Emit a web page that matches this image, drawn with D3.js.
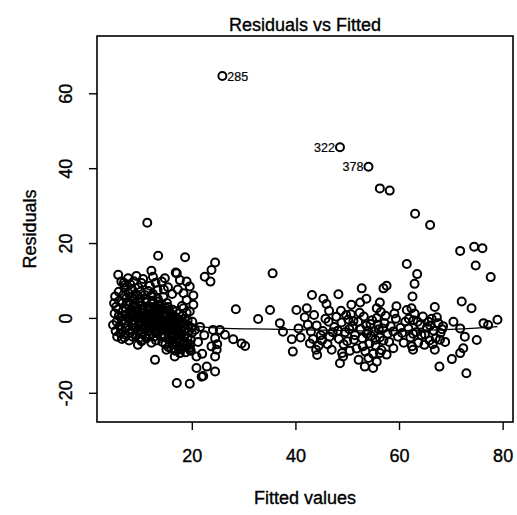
<!DOCTYPE html>
<html>
<head>
<meta charset="utf-8">
<script src="https://cdn.jsdelivr.net/npm/d3@7"></script>
<style>
  body { margin: 0; background: #fff; }
  text { font-family: "Liberation Sans", Arial, sans-serif; fill: #000; stroke: #000; stroke-width: 0.35px; }
</style>
</head>
<body>
<script>
// residuals vs fitted, [fitted, residual]
var lowPoints = [
 [5.3,-3.5],[5.5,-1.0],[5.1,1.2],[5.4,3.0],[5.6,-5.0],
 [5.9,0.5],[6.1,-2.2],[5.8,2.4],[6.0,4.6],[6.2,-4.1],[5.9,7.0],
 [6.5,-0.8],[6.7,1.8],[6.4,-3.0],[6.6,3.9],[6.8,6.1],[6.5,-5.6],[6.3,0.2],
 [7.2,2.6],[7.0,-1.5],[7.3,0.9],[7.1,-4.4],[7.4,5.3],[7.2,-2.8],[7.0,8.0],[7.5,3.8],
 [7.8,-0.3],[8.0,1.5],[7.7,-2.1],[7.9,4.2],[8.1,-3.9],[7.8,6.6],[8.0,0.8],[7.9,-6.0],
 [8.4,2.0],[8.6,-1.2],[8.3,0.4],[8.5,-3.3],[8.7,3.4],[8.4,5.7],[8.6,-5.0],[8.2,1.1],[8.5,7.5],
 [9.0,-0.6],[9.2,1.9],[8.9,-2.6],[9.1,3.0],[9.3,-4.6],[9.0,4.9],[9.2,0.3],[8.8,-1.8],[9.1,6.3],
 [9.6,0.9],[9.8,-1.4],[9.5,2.7],[9.7,-3.4],[9.9,4.1],[9.6,-0.1],[9.4,6.0],[9.8,-5.4],[9.6,1.6],[9.7,8.2],
 [10.2,-0.9],[10.4,1.3],[10.1,-2.3],[10.3,3.4],[10.5,0.2],[10.2,-4.1],[10.0,5.2],[10.4,2.4],[10.3,-6.2],[10.1,7.0],
 [10.8,0.6],[11.0,-1.9],[10.7,2.1],[10.9,-3.0],[11.1,4.4],[10.8,-0.5],[10.6,1.4],[11.0,-4.8],[10.9,6.1],[10.7,-2.6],
 [11.4,-0.2],[11.6,1.8],[11.3,-1.4],[11.5,3.1],[11.7,-3.6],[11.4,0.8],[11.2,5.0],[11.6,-2.2],[11.5,2.6],[11.3,-5.4],[11.6,7.2],
 [12.0,0.3],[12.2,-1.1],[11.9,2.3],[12.1,-2.8],[12.3,4.0],[12.0,1.2],[11.8,-4.4],[12.2,-0.6],[12.1,5.8],[11.9,3.0],[12.2,-6.6],
 [12.6,-0.4],[12.8,1.6],[12.5,-2.0],[12.7,2.9],[12.9,-3.5],[12.6,0.7],[12.4,4.6],[12.8,-1.2],[12.7,-5.0],[12.5,6.4],
 [13.2,0.9],[13.4,-0.9],[13.1,2.2],[13.3,-2.6],[13.5,3.6],[13.2,-4.0],[13.0,1.3],[13.4,5.2],[13.3,-1.7],[13.1,-6.0],[13.4,7.4],
 [13.8,-0.1],[14.0,1.9],[13.7,-1.6],[13.9,3.2],[14.1,-3.1],[13.8,0.5],[13.6,4.4],[14.0,-4.8],[13.9,2.6],[13.7,-2.4],
 [14.4,0.4],[14.6,-1.3],[14.3,2.4],[14.5,-2.9],[14.7,1.1],[14.4,-4.3],[14.2,3.6],[14.6,-0.6],[14.5,5.6],[14.3,-6.4],
 [15.0,-0.8],[15.2,1.2],[14.9,-2.2],[15.1,0.3],[15.3,-3.6],[15.0,2.6],[14.8,-5.2],[15.2,4.0],[15.1,-1.5],[14.9,-7.0],
 [15.6,-1.9],[15.8,0.1],[15.5,-3.2],[15.7,1.5],[15.9,-4.6],[15.6,-0.9],[15.4,2.9],[15.8,-6.0],[15.7,-2.6],[15.5,-7.8],
 [16.2,-2.4],[16.4,-0.6],[16.1,-4.0],[16.3,0.8],[16.5,-5.4],[16.2,-1.6],[16.0,-3.0],[16.4,-6.8],[16.3,2.2],[16.1,-8.2],
 [16.8,-3.0],[17.0,-1.2],[16.7,-4.6],[16.9,0.2],[17.1,-5.9],[16.8,-2.2],[16.6,-7.2],[17.0,1.8],[16.9,-8.8],
 [17.4,-3.6],[17.6,-1.8],[17.3,-5.2],[17.5,-0.4],[17.7,-6.6],[17.4,-2.8],[17.2,-4.4],[17.6,-7.8],[17.5,1.2],
 [18.0,-4.2],[18.2,-2.4],[17.9,-5.8],[18.1,-1.0],[18.3,-7.2],[18.0,-3.4],[17.8,-8.4],[18.2,0.6],[18.1,3.2],
 [18.6,-4.8],[18.8,-3.0],[18.5,-6.2],[18.7,-1.6],[18.9,-7.6],[18.6,-0.2],[18.4,2.6],[18.8,-9.2],
 [19.2,-5.2],[19.4,-3.6],[19.1,-6.8],[19.3,-2.0],[19.5,-8.0],[19.2,-0.6],[19.0,1.4],
 [19.8,-5.8],[20.0,-4.0],[19.7,-7.2],[19.9,-2.6],[20.1,-1.0],[19.8,-8.8],
 [6.9,9.4],[8.8,9.8],[9.3,11.2],[11.9,8.6],[13.0,9.4],[15.4,8.2],[16.2,6.4],[17.3,7.6],
 [8.1,9.0],[12.2,12.6],[10.6,10.4],[14.6,7.6],[18.4,6.6],[20.3,6.0]
];

// edge of the left cloud and the sparse middle
var edgePoints = [
 [5.8,11.5],[6.4,9.7],[7.7,10.6],[7.1,8.8],[10.3,9.3],[12.5,11.0],[14.2,9.7],[14.8,10.6],
 [17.1,11.9],[17.7,10.1],[19.0,9.7],[19.6,8.4],[5.2,5.7],[5.0,3.9],[4.8,-1.9],[7.0,-5.2],
 [9.6,-7.2],[10.3,-5.9],[12.9,-11.2],[15.1,-8.5],[16.7,-10.3],[17.7,-9.4],[19.6,-8.5],[20.9,-10.3],
 [19.0,4.8],[20.3,3.5],[19.6,1.7],[20.6,-3.2],[21.6,-2.4],[24.1,-3.2],[24.5,-5.4],[23.8,-7.6],
 [24.5,-10.3],[24.8,-8.5],[20.9,-13.4],[22.9,-13.0],[22.2,-15.5],[13.5,16.6],[18.7,16.2],[11.4,25.4],
 [16.9,12.1],[24.5,14.8],[23.8,12.8],[22.5,11.0],[23.6,9.7],[17.1,-17.4],[19.6,-17.6],[24.5,-14.3],
 [21.9,-15.7],[22.0,-9.6],[25.4,-3.2],[26.4,-4.5],[24.9,-7.0],[21.2,-6.4],[22.4,-4.6],
 [28.5,2.3],[35.1,2.1],[32.8,-0.3],[28.0,-5.7],[29.6,-6.8],[30.3,-7.5],[35.6,11.9]
];

var highPoints = [
 [56.3,34.6],[58.2,34.0],[63.1,27.8],[66.0,24.8],[71.8,17.9],[74.5,19.0],[76.1,18.6],[74.8,14.0],
 [77.7,10.9],[61.5,14.4],[63.5,11.7],[63.0,9.1],[62.6,5.7],[52.8,7.9],[57.0,7.9],[57.6,8.6],
 [48.3,6.3],[43.2,6.1],[45.4,5.1],[46.0,3.7],[46.5,1.9],[40.2,2.1],[42.2,2.6],[41.8,0.2],
 [72.1,4.4],[74.0,2.6],[66.9,2.9],[53.7,5.1],[52.5,4.1],[50.8,3.5],[48.8,1.9],[56.3,4.1],
 [55.7,2.6],[59.5,3.1],[61.5,2.1],[62.4,2.6],[70.5,-1.0],[71.8,-2.8],[76.3,-1.4],[77.2,-1.9],
 [79.0,-0.5],[37.0,-1.4],[37.6,-3.7],[39.3,-5.7],[39.5,-9.0],[42.8,-6.8],[44.0,-8.5],[44.2,-9.9],
 [47.0,-8.5],[48.6,-12.1],[49.2,-10.3],[53.4,-13.0],[55.0,-13.4],[55.7,-11.7],[56.3,-9.4],[54.1,-10.7],
 [58.9,-8.1],[62.7,-8.5],[66.9,-8.5],[67.8,-13.0],[70.2,-11.0],[71.8,-9.4],[72.4,-8.1],[73.0,-14.8],
 [75.0,-5.9],[72.7,-5.0],
 [48.9,-1.2],[49.6,-3.8],[50.2,-0.4],[48.4,-5.6],[51.0,-2.2],[49.3,-7.0],[50.7,1.0],[51.5,-4.6],
 [52.1,-1.0],[50.0,-6.2],[52.6,-3.0],[51.8,-8.2],[53.2,0.4],[52.9,-5.4],[53.7,-2.0],[54.3,-6.8],
 [53.5,-9.0],[54.8,-0.6],[55.2,-3.6],[54.6,-4.8],[55.9,-1.8],[55.5,-7.4],[56.3,-5.2],[56.9,-2.8],
 [57.4,0.6],[56.6,-8.6],[57.8,-4.2],[58.1,-6.4],[57.2,-1.4],[49.8,0.8],[50.5,-8.8],[51.3,-5.8],
 [52.4,1.4],[53.0,-7.6],[54.0,-3.4],[55.0,-9.6],[55.7,0.0],[56.1,-3.0],[57.0,-6.0],[58.4,-2.2],
 [48.2,-3.4],[49.0,-9.4],[52.2,-11.2],[54.5,-1.6],[53.8,-4.2],[51.2,-0.8],[50.4,-3.0],[56.5,1.6],
 [57.6,-9.8],[55.4,-5.8],
 [58.9,-3.6],[59.4,-0.2],[59.8,-5.0],[60.3,-2.6],[60.9,-6.6],[59.1,1.2],[61.2,-1.0],[60.6,-4.0],
 [61.8,-2.8],[62.2,-5.2],[62.8,-0.6],[63.3,-3.8],[63.7,-6.6],[64.1,-1.8],[64.6,0.4],[65.0,-4.4],
 [65.4,-2.6],[65.9,-6.0],[66.3,-0.2],[66.7,-3.4],[67.1,-5.4],[67.6,-1.4],[68.0,-4.0],[68.5,-2.2],
 [68.9,-6.4],[62.5,-7.6],[63.0,1.2],[64.3,-4.6],[65.7,-1.0],[66.5,-7.0],[67.3,0.2],[68.3,-3.0],
 [61.9,-0.2],[62.7,-4.2],[64.9,-7.2],[66.0,-2.0],[67.9,-5.8],[63.6,-1.0],
 [43.0,-3.6],[42.4,-1.8],[41.0,-5.2],[40.6,-2.8],[44.1,-2.0],[44.9,-4.6],[43.6,0.8],[45.3,-3.5],
 [46.4,-1.0],[45.1,-6.0],[47.5,-2.4],[46.6,-5.0],[47.9,0.3],[46.2,-7.0],[47.2,-3.8],[45.8,-0.2],
 [44.5,-7.4],[43.4,-5.6]
];

// labelled points
var labelIds = ["285", "322", "378"];
var labelFitted = [25.9, 48.6, 54.1];
var labelResid = [64.6, 45.6, 40.4];

// lowess smooth
var smoothX = [5, 8, 11, 14, 17, 20, 23, 26, 30, 35, 40, 45, 50, 55, 60, 65, 70, 75, 79];
var smoothY = [0.3, 0.8, 1.0, 0.4, -0.8, -2.0, -2.6, -2.8, -2.9, -3.0, -3.1, -3.3, -3.4, -3.5, -3.4, -3.3, -3.1, -2.7, -2.3];

var xTicks = [20, 40, 60, 80];
var yTicks = [-20, 0, 20, 40, 60];

var margin = {top: 36, right: 4, bottom: 93, left: 97},
width = 517 - margin.left - margin.right,
height = 515 - margin.top - margin.bottom;

var xScale = d3.scaleLinear().domain([1.7, 82.0]).range([0, width]);
var yScale = d3.scaleLinear().domain([-27.8, 75.3]).range([height, 0]);

var svg = d3.select("body").append("svg")
    .attr("width", 517)
    .attr("height", 515)
    .append("g")
    .attr("transform", "translate(" + margin.left + "," + margin.top + ")");

var allPoints = lowPoints.concat(edgePoints, highPoints);
labelIds.forEach(function(id, i) { allPoints.push([labelFitted[i], labelResid[i]]); });

// smooth line
var line = d3.line()
    .x(function(d) { return xScale(d[0]); })
    .y(function(d) { return yScale(d[1]); })
    .curve(d3.curveBasis);

svg.append("path")
    .datum(smoothX.map(function(x, i) { return [x, smoothY[i]]; }))
    .attr("d", line)
    .style("fill", "none")
    .style("stroke", "#000")
    .style("stroke-width", 1.3);

svg.selectAll(".dot")
    .data(allPoints)
    .enter().append("circle")
    .attr("class", "dot")
    .attr("r", 4)
    .attr("cx", function(d) { return xScale(d[0]); })
    .attr("cy", function(d) { return yScale(d[1]); })
    .style("fill", "none")
    .style("stroke", "#000")
    .style("stroke-width", 2);

// id labels: right of the point in the left half, left of it otherwise
var midX = (d3.min(allPoints, function(d) { return d[0]; }) + d3.max(allPoints, function(d) { return d[0]; })) / 2;
svg.selectAll(".idlab")
    .data(labelIds)
    .enter().append("text")
    .attr("class", "idlab")
    .attr("x", function(d, i) { return xScale(labelFitted[i]) + (labelFitted[i] < midX ? 5 : -5); })
    .attr("y", function(d, i) { return yScale(labelResid[i]); })
    .attr("dy", "0.36em")
    .style("text-anchor", function(d, i) { return labelFitted[i] < midX ? "start" : "end"; })
    .style("font-size", "12.5px")
    .style("stroke-width", "0.2px")
    .text(function(d) { return d; });

// axes
var xAxis = d3.axisBottom(xScale).tickValues(xTicks).tickSize(8).tickFormat(function(d) { return String(d); });
var yAxis = d3.axisLeft(yScale).tickValues(yTicks).tickSize(8).tickFormat(function(d) { return String(d); });

var gx = svg.append("g")
    .attr("transform", "translate(0," + height + ")")
    .call(xAxis);
gx.select(".domain").remove();
gx.selectAll("line").style("stroke-width", 1.4);
gx.selectAll("text")
    .attr("y", 40)
    .attr("dy", 0)
    .style("font-size", "18px")
    .style("font-family", "'Liberation Sans', Arial, sans-serif");

var gy = svg.append("g").call(yAxis);
gy.select(".domain").remove();
gy.selectAll("line").style("stroke-width", 1.4);
gy.selectAll("text")
    .attr("transform", "rotate(-90)")
    .attr("x", 0)
    .attr("y", -25)
    .attr("dy", 0)
    .style("text-anchor", "middle")
    .style("font-size", "18px")
    .style("font-family", "'Liberation Sans', Arial, sans-serif");

// box
svg.append("rect")
    .attr("width", width)
    .attr("height", height)
    .style("fill", "none")
    .style("stroke", "#000")
    .style("stroke-width", 1.6);

svg.append("text")
    .attr("x", width / 2)
    .attr("y", -5)
    .style("text-anchor", "middle")
    .style("font-size", "18px")
    .text("Residuals vs Fitted");

svg.append("text")
    .attr("x", width / 2)
    .attr("y", height + 82)
    .style("text-anchor", "middle")
    .style("font-size", "18px")
    .text("Fitted values");

svg.append("text")
    .attr("transform", "translate(" + (36 - margin.left) + "," + (height / 2) + ") rotate(-90)")
    .style("text-anchor", "middle")
    .style("font-size", "18px")
    .text("Residuals");
</script>
</body>
</html>
